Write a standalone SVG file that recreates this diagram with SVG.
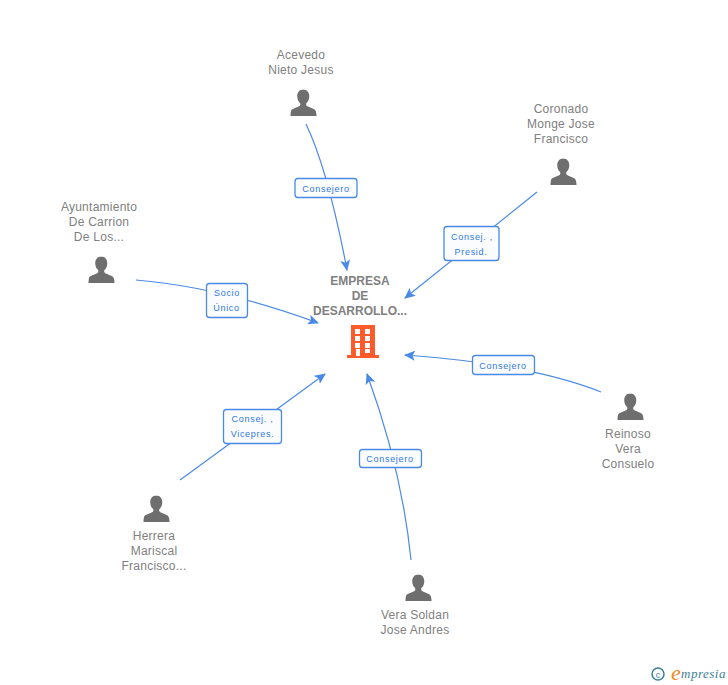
<svg xmlns="http://www.w3.org/2000/svg" width="728" height="685" viewBox="0 0 728 685">
<defs>
<style>
.n{font:12px "Liberation Sans",Arial,sans-serif;fill:#808080;text-anchor:middle;letter-spacing:.25px}
.t{font:bold 12px "Liberation Sans",Arial,sans-serif;fill:#808080;text-anchor:middle}
.l{font:9px "Liberation Sans",Arial,sans-serif;fill:#2f7ae0;text-anchor:middle;letter-spacing:.7px}
.c{fill:none;stroke:#4a8ae6;stroke-width:1.2}
.b{fill:#fbfcfe;stroke:#4a8ae6;stroke-width:1.3}
.a{fill:#4a8ae6}
</style>
<symbol id="p" viewBox="0 0 28 28" overflow="visible">
<path fill="#6e6e6e" d="M14 0c-4.200 0-6.500 3-6.500 7 0 3 1.200 5.400 2.900 7 .6.800.5 2.300-.5 3-2.500 1.500-7 2.300-8.600 4.500C.7 23 .6 25.500.5 27.500h27c-.1-2-.2-4.500-1.300-6-1.600-2.200-6.100-3-8.600-4.500-1-.7-1.100-2.200-.5-3 1.700-1.600 2.900-4 2.900-7 0-4-2.300-7-6.500-7z"/>
</symbol>
<marker id="m" markerWidth="12" markerHeight="10" refX="10" refY="5" orient="auto" markerUnits="userSpaceOnUse"><path class="a" d="M0 0L11 5L0 10L2.500 5z"/></marker>
</defs>
<rect width="728" height="685" fill="#fff"/>
<g id="connectors">
<path class="c" marker-end="url(#m)" d="M306 124Q328 170 347 270"/>
<path class="c" marker-end="url(#m)" d="M537 192L405 298"/>
<path class="c" marker-end="url(#m)" d="M136 280Q220 287 318 323"/>
<path class="c" marker-end="url(#m)" d="M601 392Q530 364 405 355"/>
<path class="c" marker-end="url(#m)" d="M180 480L325 374"/>
<path class="c" marker-end="url(#m)" d="M411 560Q402 470 367 374"/>
</g>
<g id="edge-label-1"><rect class="b" x="295" y="178.500" width="62" height="19" rx="3"/><text class="l" x="326" y="191.500">Consejero</text></g>
<g id="edge-label-2"><rect class="b" x="444" y="226.500" width="55" height="34" rx="3"/><text class="l" x="472" y="240">Consej. ,</text><text class="l" x="471" y="255">Presid.</text></g>
<g id="edge-label-3"><rect class="b" x="206.500" y="283.500" width="41" height="34" rx="3"/><text class="l" x="227" y="296">Socio</text><text class="l" x="226.500" y="311">Único</text></g>
<g id="edge-label-4"><rect class="b" x="472.500" y="355.500" width="62" height="19" rx="3"/><text class="l" x="503" y="369">Consejero</text></g>
<g id="edge-label-5"><rect class="b" x="223.500" y="409.500" width="58" height="34" rx="3"/><text class="l" x="252.500" y="422">Consej. ,</text><text class="l" x="252.500" y="437">Vicepres.</text></g>
<g id="edge-label-6"><rect class="b" x="359.500" y="449.500" width="62" height="18" rx="3"/><text class="l" x="390" y="462">Consejero</text></g>
<g id="node-center"><text class="t" x="360" y="285">EMPRESA</text><text class="t" x="360" y="300">DE</text><text class="t" x="360" y="315">DESARROLLO...</text>
<path fill="#ff5a2c" fill-rule="evenodd" d="M351 325H375V355H379V358H347V355H351ZM355 329V334H360V329ZM365 329V334H370V329ZM355 336V341H360V336ZM365 336V341H370V336ZM355 343V348H360V343ZM365 343V348H370V343ZM356 349V356H360V349ZM365 349V353H370V349Z"/></g>
<g id="node-acevedo"><text class="n" x="301" y="59">Acevedo</text><text class="n" x="301" y="74">Nieto Jesus</text><use href="#p" x="290" y="89" width="27" height="28"/></g>
<g id="node-coronado"><text class="n" x="561" y="113">Coronado</text><text class="n" x="561" y="128">Monge Jose</text><text class="n" x="561" y="143">Francisco</text><use href="#p" x="550" y="158" width="27" height="28"/></g>
<g id="node-ayuntamiento"><text class="n" x="99" y="211">Ayuntamiento</text><text class="n" x="99" y="226">De Carrion</text><text class="n" x="99" y="241">De Los...</text><use href="#p" x="88" y="256" width="27" height="28"/></g>
<g id="node-reinoso"><text class="n" x="628" y="438">Reinoso</text><text class="n" x="628" y="453">Vera</text><text class="n" x="628" y="468">Consuelo</text><use href="#p" x="617" y="393" width="27" height="28"/></g>
<g id="node-herrera"><text class="n" x="154" y="540">Herrera</text><text class="n" x="154" y="555">Mariscal</text><text class="n" x="154" y="570">Francisco...</text><use href="#p" x="143" y="495" width="27" height="28"/></g>
<g id="node-vera"><text class="n" x="415" y="619">Vera Soldan</text><text class="n" x="415" y="634">Jose Andres</text><use href="#p" x="405" y="574" width="27" height="28"/></g>
<g id="logo">
<circle cx="658" cy="674" r="6" fill="none" stroke="#3d7f96" stroke-width="1.500"/>
<text x="658" y="677.500" font-family="Liberation Sans,sans-serif" font-size="9" fill="#3d7f96" text-anchor="middle">c</text>
<text x="671" y="680" font-family="Liberation Serif,serif" font-style="italic" font-size="22" fill="#f08a1d">e</text>
<text x="681" y="678" font-family="Liberation Serif,serif" font-style="italic" font-size="13" fill="#3d7f96" letter-spacing=".5">mpresia</text>
</g>
</svg>
